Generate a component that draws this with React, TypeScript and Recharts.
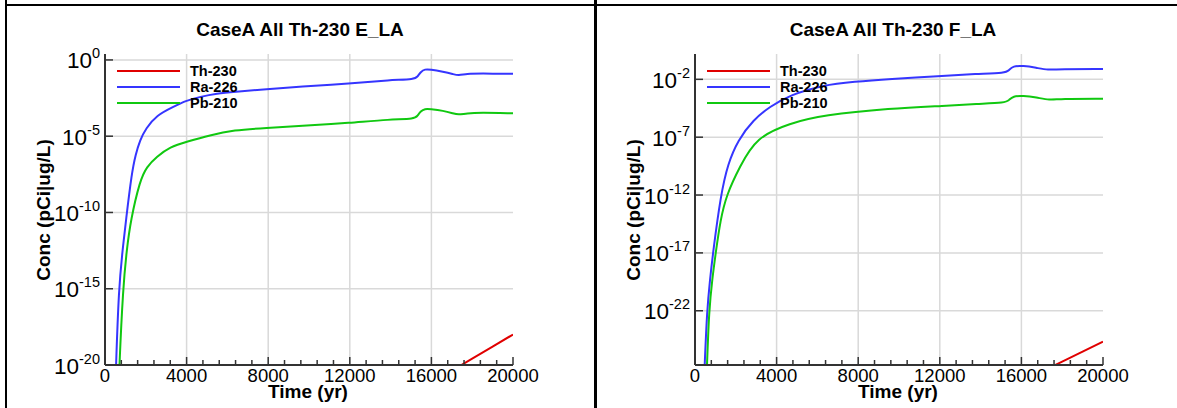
import { LineChart, Line, XAxis, YAxis, Legend, ReferenceLine } from "recharts";

const FONT = "'Liberation Sans', Arial, Helvetica, sans-serif";
const AXIS_COLOR = "#333333";
const GRID_COLOR = "#d9d9d9";

const SERIES_NAMES = ["Th-230", "Ra-226", "Pb-210"];
const SERIES_COLORS = ["#e00000", "#3535ff", "#10c810"];

const X_TICKS = [
  0, 800, 1600, 2400, 3200, 4000, 4800, 5600, 6400, 7200, 8000, 8800, 9600, 10400, 11200, 12000,
  12800, 13600, 14400, 15200, 16000, 16800, 17600, 18400, 19200, 20000
];
const X_GRID = [4000, 8000, 12000, 16000];

const E_Y_TICKS = [1, 1e-5, 1e-10, 1e-15, 1e-20];
const E_Y_GRID = [1, 1e-5, 1e-10, 1e-15];
const E_Y_DOMAIN = [1e-20, 2.45];

const F_Y_TICKS = [1e-2, 1e-7, 1e-12, 1e-17, 1e-22];
const F_Y_GRID = [1e-2, 1e-7, 1e-12, 1e-17, 1e-22];
const F_Y_DOMAIN = [2.04e-27, 1.55];

type Pt = { t: number; c: number };

// Case E_LA
const E_TH230: Pt[] = [
  { t: 17000, c: 4.2e-21 }, { t: 18000, c: 2.6e-20 }, { t: 19000, c: 1.6e-19 }, { t: 20000, c: 1.0e-18 }
];
const E_RA226: Pt[] = [
  { t: 450, c: 1e-24 }, { t: 540, c: 1e-20 }, { t: 676, c: 1e-15 }, { t: 850, c: 2.5e-13 },
  { t: 1029, c: 3.2e-11 }, { t: 1309, c: 3.8e-8 }, { t: 1500, c: 6.3e-7 }, { t: 1716, c: 5.5e-6 },
  { t: 2000, c: 3.2e-5 }, { t: 2533, c: 2.4e-4 }, { t: 3350, c: 8.5e-4 }, { t: 4000, c: 2.2e-3 },
  { t: 4657, c: 3.8e-3 }, { t: 5500, c: 6.3e-3 }, { t: 6290, c: 8.1e-3 }, { t: 7924, c: 1.23e-2 },
  { t: 9559, c: 1.74e-2 }, { t: 12010, c: 2.9e-2 }, { t: 13970, c: 4.8e-2 }, { t: 15196, c: 5.5e-2 },
  { t: 15310, c: 7.8e-2 }, { t: 15475, c: 0.166 }, { t: 15686, c: 0.25 }, { t: 15931, c: 0.24 },
  { t: 16585, c: 0.166 }, { t: 17075, c: 0.117 }, { t: 17320, c: 0.095 }, { t: 17729, c: 0.123 },
  { t: 18382, c: 0.129 }, { t: 20000, c: 0.123 }
];
const E_PB210: Pt[] = [
  { t: 600, c: 1e-24 }, { t: 703, c: 1e-20 }, { t: 882, c: 1e-15 }, { t: 1060, c: 3.2e-13 },
  { t: 1259, c: 3.2e-11 }, { t: 1716, c: 1.3e-8 }, { t: 2044, c: 1e-7 }, { t: 2534, c: 4.5e-7 },
  { t: 3186, c: 2e-6 }, { t: 4000, c: 4.3e-6 }, { t: 5147, c: 1.17e-5 }, { t: 6290, c: 2.5e-5 },
  { t: 7924, c: 3.5e-5 }, { t: 9559, c: 4.6e-5 }, { t: 12010, c: 7.6e-5 }, { t: 13970, c: 1.26e-4 },
  { t: 15196, c: 1.38e-4 }, { t: 15310, c: 2.1e-4 }, { t: 15475, c: 4.4e-4 }, { t: 15686, c: 6.3e-4 },
  { t: 15931, c: 6.0e-4 }, { t: 16585, c: 4.7e-4 }, { t: 17075, c: 3.1e-4 }, { t: 17320, c: 2.5e-4 },
  { t: 17729, c: 3.2e-4 }, { t: 18382, c: 3.5e-4 }, { t: 20000, c: 3.2e-4 }
];

// Case F_LA
const F_TH230: Pt[] = [
  { t: 17000, c: 5.5e-28 }, { t: 18000, c: 4.0e-27 }, { t: 19000, c: 2.9e-26 }, { t: 20000, c: 2.1e-25 }
];
const F_RA226: Pt[] = [
  { t: 400, c: 1.6e-30 }, { t: 475, c: 2e-27 }, { t: 588, c: 1e-22 }, { t: 735, c: 5e-20 },
  { t: 882, c: 1e-17 }, { t: 1260, c: 1e-12 }, { t: 1618, c: 5.5e-10 }, { t: 2108, c: 5.6e-8 },
  { t: 2843, c: 3e-6 }, { t: 3662, c: 4.3e-5 }, { t: 4642, c: 4.4e-4 }, { t: 6275, c: 3.2e-3 },
  { t: 7800, c: 6.3e-3 }, { t: 9544, c: 1.07e-2 }, { t: 11995, c: 1.95e-2 }, { t: 13794, c: 3e-2 },
  { t: 15230, c: 3.5e-2 }, { t: 15392, c: 6.3e-2 }, { t: 15588, c: 0.141 }, { t: 16078, c: 0.151 },
  { t: 16735, c: 0.1 }, { t: 17304, c: 6.3e-2 }, { t: 17877, c: 7.8e-2 }, { t: 20000, c: 7.8e-2 }
];
const F_PB210: Pt[] = [
  { t: 500, c: 1e-31 }, { t: 588, c: 2e-27 }, { t: 686, c: 1e-22 }, { t: 850, c: 6.3e-20 },
  { t: 1015, c: 1e-17 }, { t: 1245, c: 6.9e-15 }, { t: 1539, c: 1e-12 }, { t: 2191, c: 2.8e-10 },
  { t: 3010, c: 1e-7 }, { t: 4642, c: 1.6e-6 }, { t: 6275, c: 8.1e-6 }, { t: 9544, c: 3.1e-5 },
  { t: 12322, c: 5.2e-5 }, { t: 13794, c: 7.6e-5 }, { t: 15230, c: 9.5e-5 }, { t: 15392, c: 1.6e-4 },
  { t: 15588, c: 3.6e-4 }, { t: 16078, c: 3.8e-4 }, { t: 16735, c: 2.75e-4 }, { t: 17387, c: 1.6e-4 },
  { t: 17877, c: 2.1e-4 }, { t: 20000, c: 2.1e-4 }
];

const PLOT_TOP = 54;
const PLOT_BOTTOM = 365;
const PLOT_WIDTH = 408;
const HEIGHT = 408;

function BottomTick(props: any) {
  const { x, y, payload } = props;
  const major = payload.value % 4000 === 0;
  return (
    <g>
      <line x1={x} x2={x} y1={y} y2={y - (major ? 8 : 5)} stroke={AXIS_COLOR} strokeWidth={1.5} />
      {major && (
        <text x={x} y={y + 17} textAnchor="middle" fontSize={18.5} fill="#000" fontFamily={FONT}>
          {payload.value}
        </text>
      )}
    </g>
  );
}

function TopTick(props: any) {
  const { x, y, payload } = props;
  const major = payload.value % 4000 === 0;
  return <line x1={x} x2={x} y1={y} y2={y + (major ? 8 : 5)} stroke={AXIS_COLOR} strokeWidth={1.5} />;
}

function LeftTick(props: any) {
  const { x, y, payload } = props;
  const exp = Math.round(Math.log10(payload.value));
  return (
    <g>
      <line x1={x} x2={x + 8} y1={y} y2={y} stroke={AXIS_COLOR} strokeWidth={1.5} />
      <text x={x - 5} y={y + 8.5} textAnchor="end" fill="#000" fontFamily={FONT}>
        <tspan fontSize={22.5}>10</tspan>
        <tspan fontSize={14.5} dy={-10}>{exp}</tspan>
      </text>
    </g>
  );
}

function RightTick(props: any) {
  const { x, y } = props;
  return <line x1={x} x2={x - 7} y1={y} y2={y} stroke={AXIS_COLOR} strokeWidth={1.5} />;
}

function LegendBox(props: any) {
  const payload = props.payload || [];
  const items = SERIES_NAMES.map((n) => payload.find((p: any) => p.value === n)).filter(Boolean);
  return (
    <svg width={130} height={48} style={{ display: "block" }}>
      {items.map((p: any, i: number) => (
        <g key={p.value}>
          <line x1={2} x2={65} y1={9 + 16 * i} y2={9 + 16 * i} stroke={p.color} strokeWidth={2} />
          <text x={75} y={14 + 16 * i} fontSize={14.5} fontWeight={700} fill="#000" fontFamily={FONT}>
            {p.value}
          </text>
        </g>
      ))}
    </svg>
  );
}

type PanelProps = {
  left: number;
  width: number;
  plotLeft: number;
  title: string;
  titleCenter: number;
  yLabelX: number;
  yDomain: number[];
  yTicks: number[];
  yGrid: number[];
  series: Pt[][];
};

function Panel({ left, width, plotLeft, title, titleCenter, yLabelX, yDomain, yTicks, yGrid, series }: PanelProps) {
  const plotRight = plotLeft + PLOT_WIDTH;
  const axisLine = { stroke: AXIS_COLOR, strokeWidth: 2 };
  return (
    <div style={{ position: "absolute", left, top: 0, width, height: HEIGHT }}>
      <LineChart
        width={width}
        height={HEIGHT}
        margin={{ top: PLOT_TOP, right: width - plotRight, bottom: 0, left: 0 }}
      >
        <XAxis
          xAxisId="x"
          type="number"
          dataKey="t"
          domain={[0, 20000]}
          ticks={X_TICKS}
          interval={0}
          height={HEIGHT - PLOT_BOTTOM}
          tickSize={0}
          tickMargin={0}
          tickLine={false}
          axisLine={axisLine}
          tick={BottomTick}
          allowDataOverflow
        />
        <XAxis
          xAxisId="top"
          orientation="top"
          type="number"
          domain={[0, 20000]}
          ticks={X_TICKS}
          interval={0}
          height={0}
          tickSize={0}
          tickMargin={0}
          tickLine={false}
          axisLine={axisLine}
          tick={TopTick}
          allowDataOverflow
        />
        <YAxis
          yAxisId="y"
          type="number"
          scale="log"
          domain={yDomain}
          ticks={yTicks}
          interval={0}
          width={plotLeft}
          tickSize={0}
          tickMargin={0}
          tickLine={false}
          axisLine={axisLine}
          tick={LeftTick}
          allowDataOverflow
        />
        <YAxis
          yAxisId="right"
          orientation="right"
          type="number"
          scale="log"
          domain={yDomain}
          ticks={yTicks}
          interval={0}
          width={0}
          tickSize={0}
          tickMargin={0}
          tickLine={false}
          axisLine={axisLine}
          tick={RightTick}
          allowDataOverflow
        />
        {X_GRID.map((v) => (
          <ReferenceLine key={"gx" + v} xAxisId="x" yAxisId="y" x={v} stroke={GRID_COLOR} strokeWidth={1.5} />
        ))}
        {yGrid.map((v) => (
          <ReferenceLine key={"gy" + v} xAxisId="x" yAxisId="y" y={v} stroke={GRID_COLOR} strokeWidth={1.5} />
        ))}
        {series.map((data, i) => (
          <Line
            key={SERIES_NAMES[i]}
            xAxisId="x"
            yAxisId="y"
            data={data}
            dataKey="c"
            name={SERIES_NAMES[i]}
            type={i === 0 ? "linear" : "basis"}
            stroke={SERIES_COLORS[i]}
            strokeWidth={2}
            dot={false}
            activeDot={false}
            isAnimationActive={false}
          />
        ))}
        <Legend
          content={LegendBox}
          layout="vertical"
          align="center"
          verticalAlign="middle"
          wrapperStyle={{ left: plotLeft + 10, top: 62, width: 130, height: 48 }}
        />
      </LineChart>
      <div
        style={{
          position: "absolute",
          left: titleCenter,
          top: 20,
          transform: "translateX(-50%)",
          whiteSpace: "nowrap",
          fontFamily: FONT,
          fontWeight: 700,
          fontSize: 19,
          lineHeight: "19px"
        }}
      >
        {title}
      </div>
      <div
        style={{
          position: "absolute",
          left: yLabelX,
          top: (PLOT_TOP + PLOT_BOTTOM) / 2,
          transform: "translate(-50%, -50%) rotate(-90deg)",
          whiteSpace: "nowrap",
          fontFamily: FONT,
          fontWeight: 700,
          fontSize: 19,
          lineHeight: "19px"
        }}
      >
        Conc (pCi|ug/L)
      </div>
      <div
        style={{
          position: "absolute",
          left: (plotLeft + plotRight) / 2 - 1,
          top: 384,
          transform: "translateX(-50%)",
          whiteSpace: "nowrap",
          fontFamily: FONT,
          fontWeight: 700,
          fontSize: 19,
          lineHeight: "15px"
        }}
      >
        Time (yr)
      </div>
    </div>
  );
}

const fragStyle = {
  position: "absolute" as const,
  top: -18,
  fontFamily: FONT,
  fontWeight: 700,
  fontSize: 19,
  lineHeight: "19px"
};

export default function App() {
  return (
    <div
      style={{
        position: "absolute",
        left: 0,
        top: 0,
        width: 1177,
        height: HEIGHT,
        background: "#fff",
        overflow: "hidden"
      }}
    >
      <Panel
        left={0}
        width={595}
        plotLeft={105}
        title="CaseA All Th-230 E_LA"
        titleCenter={300}
        yLabelX={43}
        yDomain={E_Y_DOMAIN}
        yTicks={E_Y_TICKS}
        yGrid={E_Y_GRID}
        series={[E_TH230, E_RA226, E_PB210]}
      />
      <Panel
        left={595}
        width={582}
        plotLeft={100}
        title="CaseA All Th-230 F_LA"
        titleCenter={298}
        yLabelX={38}
        yDomain={F_Y_DOMAIN}
        yTicks={F_Y_TICKS}
        yGrid={F_Y_GRID}
        series={[F_TH230, F_RA226, F_PB210]}
      />
      <div style={{ ...fragStyle, left: 307 }}>_</div>
      <div style={{ ...fragStyle, left: 899 }}>_</div>
      <div style={{ position: "absolute", left: 5, top: 0, width: 2, height: HEIGHT, background: "#000" }} />
      <div style={{ position: "absolute", left: 594, top: 0, width: 3, height: HEIGHT, background: "#000" }} />
      <div style={{ position: "absolute", left: 5, top: 4, width: 1172, height: 2, background: "#000" }} />
    </div>
  );
}
